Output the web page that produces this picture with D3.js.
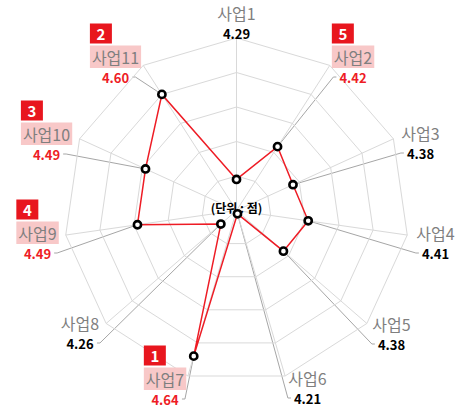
<!DOCTYPE html>
<html>
<head>
<meta charset="utf-8">
<script src="https://cdn.jsdelivr.net/npm/d3@7"></script>
<style>
  html, body { margin: 0; padding: 0; background: #fff; }
  svg { display: block; }
</style>
</head>
<body>
<svg id="chart" width="457" height="415"></svg>
<script>
// ---- data ----
const categories = ["사업1", "사업2", "사업3", "사업4", "사업5", "사업6",
                    "사업7", "사업8", "사업9", "사업10", "사업11"];
const scores = [4.29, 4.42, 4.38, 4.41, 4.38, 4.21, 4.64, 4.26, 4.49, 4.49, 4.60];
// rank badge shown next to the five highest-scoring items
const topRanks = [null, 5, null, null, null, null, 1, null, 4, 3, 2];
const ringTicks = [4.3, 4.4, 4.5, 4.6, 4.7];
const scoreDomain = [4.2, 4.7];
const unitLabel = "(단위 : 점)";

// ---- layout ----
const W = 457, H = 415;
const cx = 236.5, cy = 210.5, outerR = 172.5;
// centre of each value label (category name sits just above it)
const labelAnchors = [
  [236.5, 33], [353, 77], [420.5, 153], [435.5, 253], [391.5, 344], [307.5, 398],
  [165, 399], [80, 343], [37.5, 253], [46.5, 154], [115.5, 77]
];

const FONT = "'Noto Sans CJK KR', 'Noto Sans', sans-serif";
const RED = "#ee1c25";

const svg = d3.select("#chart");
const g = svg.append("g").attr("transform", `translate(${cx},${cy})`);

const n = categories.length;
const angle = d3.scaleLinear().domain([0, n]).range([0, 2 * Math.PI]);
const r = d3.scaleLinear().domain(scoreDomain).range([0, outerR]);

const idx = d3.range(n);

// grid rings
const ringLine = d3.lineRadial()
  .angle(i => angle(i))
  .curve(d3.curveLinearClosed);

g.append("g").selectAll("path")
  .data(ringTicks)
  .join("path")
  .attr("d", t => ringLine.radius(() => r(t))(idx))
  .attr("fill", "none")
  .attr("stroke", "#d9d9d9")
  .attr("stroke-width", 1);

// spokes
g.append("g").selectAll("line")
  .data(idx)
  .join("line")
  .attr("x1", 0).attr("y1", 0)
  .attr("x2", i => d3.pointRadial(angle(i), r(scoreDomain[1]))[0])
  .attr("y2", i => d3.pointRadial(angle(i), r(scoreDomain[1]))[1])
  .attr("stroke", "#d9d9d9")
  .attr("stroke-width", 1);

// centre unit note
g.append("text")
  .attr("x", 0).attr("y", -3)
  .attr("text-anchor", "middle")
  .attr("dominant-baseline", "central")
  .attr("font-family", FONT)
  .attr("font-size", 12)
  .attr("font-weight", "bold")
  .attr("fill", "#000")
  .text(unitLabel);

const pts = scores.map((v, i) => d3.pointRadial(angle(i), r(v)));

// labels (absolute coordinates)
const labels = svg.append("g");
const leaders = svg.insert("g", ":first-child");

categories.forEach((name, i) => {
  const [ax, ay] = labelAnchors[i];
  const highlighted = topRanks[i] != null;
  const lg = labels.append("g");

  const catText = lg.append("text")
    .attr("x", ax).attr("y", ay - 13.5)
    .attr("text-anchor", "middle")
    .attr("font-family", FONT)
    .attr("font-size", 16)
    .attr("fill", "#7f7f7f")
    .text(name);

  const valText = lg.append("text")
    .attr("x", ax).attr("y", ay)
    .attr("text-anchor", "middle")
    .attr("dominant-baseline", "central")
    .attr("font-family", FONT)
    .attr("font-size", 13)
    .attr("font-weight", "bold")
    .attr("fill", highlighted ? RED : "#000")
    .text(scores[i].toFixed(2));

  if (highlighted) {
    const bb = catText.node().getBBox();
    const px = bb.x - 2, pw = bb.width + 4;
    const py = bb.y + 1, ph = bb.height - 1.5;
    lg.insert("rect", ":first-child")
      .attr("x", px).attr("y", py)
      .attr("width", pw).attr("height", ph)
      .attr("fill", "#f8c8c8");
    lg.append("rect")
      .attr("x", px).attr("y", py - 22)
      .attr("width", 22).attr("height", 20)
      .attr("fill", "#e8161e");
    lg.append("text")
      .attr("x", px + 11).attr("y", py - 12)
      .attr("text-anchor", "middle")
      .attr("dominant-baseline", "central")
      .attr("font-family", FONT)
      .attr("font-size", 15)
      .attr("font-weight", "bold")
      .attr("fill", "#fff")
      .text(topRanks[i]);
  }

  // leader line from the value label to its point
  const vb = valText.node().getBBox();
  const px = cx + pts[i][0], py = cy + pts[i][1];
  let path;
  if (i === 0) {
    path = [[ax, vb.y + vb.height + 2], [px, py]];
  } else if (ax > cx) {
    const sx = vb.x - 3;
    path = [[sx, ay], [sx - 3, ay], [px, py]];
  } else {
    const sx = vb.x + vb.width + 3;
    path = [[sx, ay], [sx + 3, ay], [px, py]];
  }
  leaders.append("path")
    .attr("d", d3.line()(path))
    .attr("fill", "none")
    .attr("stroke", "#a6a6a6")
    .attr("stroke-width", 1);
});

// score polygon
g.append("path")
  .datum(scores)
  .attr("d", d3.lineRadial()
    .angle((d, i) => angle(i))
    .radius(d => r(d))
    .curve(d3.curveLinearClosed))
  .attr("fill", "none")
  .attr("stroke", RED)
  .attr("stroke-width", 1.5);

// markers
g.append("g").selectAll("circle")
  .data(scores)
  .join("circle")
  .attr("cx", (d, i) => d3.pointRadial(angle(i), r(d))[0])
  .attr("cy", (d, i) => d3.pointRadial(angle(i), r(d))[1])
  .attr("r", 3.6)
  .attr("fill", "#fff")
  .attr("stroke", "#000")
  .attr("stroke-width", 2.6);
</script>
</body>
</html>
